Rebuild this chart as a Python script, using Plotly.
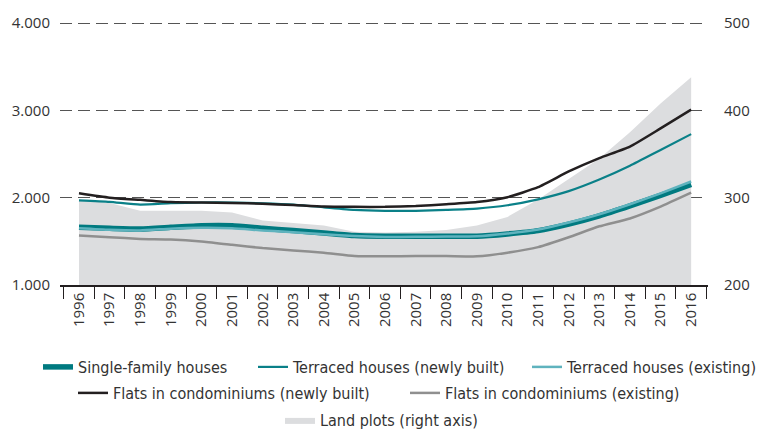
import plotly.graph_objects as go

years = [str(y) for y in range(1996, 2017)]

single_family = [1660, 1649, 1641, 1660, 1679, 1679, 1649, 1623, 1596, 1566, 1558,
                 1558, 1558, 1558, 1585, 1623, 1698, 1792, 1906, 2026, 2151]
terraced_new = [1970, 1953, 1921, 1936, 1945, 1945, 1936, 1921, 1890, 1860, 1849,
                1849, 1860, 1875, 1913, 1981, 2075, 2208, 2366, 2547, 2728]
terraced_existing = [1650, 1632, 1625, 1645, 1655, 1650, 1625, 1605, 1580, 1560, 1550,
                     1552, 1555, 1558, 1590, 1635, 1715, 1810, 1925, 2050, 2185]
flats_new = [2050, 2000, 1975, 1950, 1945, 1940, 1930, 1915, 1898, 1895, 1895,
             1905, 1925, 1950, 2006, 2120, 2300, 2453, 2585, 2793, 3008]
flats_existing = [1566, 1547, 1528, 1521, 1498, 1460, 1423, 1396, 1370, 1332, 1328,
                  1332, 1332, 1328, 1370, 1434, 1547, 1672, 1762, 1898, 2057]
land_plots = [298, 294, 285, 285, 285, 283, 274, 271, 268, 261, 260,
              261, 263, 268, 278, 298, 321, 345, 375, 408, 438]

TEXT = "#333333"
LEGEND_FONT = dict(family="Liberation Sans Narrow, DejaVu Sans Condensed, sans-serif",
                   size=16, color=TEXT)
SPLINE = dict(shape="spline", smoothing=0.5)

fig = go.Figure()

# invisible trace so the base axes (grid + labels) exist
fig.add_trace(go.Scatter(x=years, y=single_family, mode="lines",
                         line=dict(width=0), hoverinfo="skip", showlegend=False))

# land plots: grey area on the right axis, over the grid but under the lines
fig.add_trace(go.Scatter(
    x=years, y=land_plots, yaxis="y2", name="Land plots (right axis)",
    mode="lines", line=dict(width=0, color="#dcdddf"),
    fill="tozeroy", fillcolor="#dcdddf", legend="legend6"))

fig.add_trace(go.Scatter(
    x=years, y=flats_existing, yaxis="y3", name="Flats in condominiums (existing)",
    mode="lines", line=dict(color="#8f8f8f", width=2.5, **SPLINE), legend="legend5"))
fig.add_trace(go.Scatter(
    x=years, y=single_family, yaxis="y3", name="Single-family houses",
    mode="lines", line=dict(color="#007a80", width=5.5, **SPLINE), legend="legend"))
fig.add_trace(go.Scatter(
    x=years, y=terraced_existing, yaxis="y3", name="Terraced houses (existing)",
    mode="lines", line=dict(color="#5fb3be", width=2.5, **SPLINE), legend="legend3"))
fig.add_trace(go.Scatter(
    x=years, y=terraced_new, yaxis="y3", name="Terraced houses (newly built)",
    mode="lines", line=dict(color="#0a8088", width=2.2, **SPLINE), legend="legend2"))
fig.add_trace(go.Scatter(
    x=years, y=flats_new, yaxis="y3", name="Flats in condominiums (newly built)",
    mode="lines", line=dict(color="#231f20", width=2.5, **SPLINE), legend="legend4"))


def legend_at(text_left, y_mid):
    # one legend box per entry, placed by the pixel where its text starts
    return dict(orientation="h", xref="container", yref="container",
                x=(text_left - 40) / 762, y=1 - y_mid / 433,
                xanchor="left", yanchor="middle",
                font=LEGEND_FONT, bgcolor="rgba(0,0,0,0)")


fig.update_layout(
    width=762, height=433,
    margin=dict(l=58, r=40, t=18, b=148),
    paper_bgcolor="white", plot_bgcolor="white",
    separators=",.",
    showlegend=True,
    font=dict(family="Open Sans, sans-serif", size=15, color=TEXT),
    xaxis=dict(
        type="category", range=[-0.62, 20.55], tickson="boundaries",
        ticks="outside", ticklen=12, tickcolor="#231f20", tickwidth=1,
        showline=True, linecolor="#231f20", linewidth=1.5,
        showgrid=False, tickangle=-90, tickfont=dict(size=15, color=TEXT)),
    yaxis=dict(
        range=[1000, 4012], tickvals=[1000, 2000, 3000, 4000], tickformat=",d",
        showgrid=True, gridcolor="#555555", gridwidth=1.2, griddash="12px,6px",
        zeroline=False, ticks="outside", ticklen=6, tickcolor="rgba(0,0,0,0)"),
    yaxis2=dict(
        range=[200, 501.2], tickvals=[200, 300, 400, 500], overlaying="y", side="right",
        showgrid=False, zeroline=False, ticks="outside", ticklen=12,
        tickcolor="rgba(0,0,0,0)"),
    yaxis3=dict(range=[1000, 4012], overlaying="y", side="left", visible=False),
    legend=legend_at(78, 367),
    legend2=legend_at(293, 367),
    legend3=legend_at(567, 367),
    legend4=legend_at(113, 393),
    legend5=legend_at(445, 393),
    legend6=legend_at(320, 420),
)

# the page body has a default 8px margin; drop it so the figure fills the window
fig.write_html("out.html", config={"displayModeBar": False},
               post_script="document.body.style.margin = '0';")
